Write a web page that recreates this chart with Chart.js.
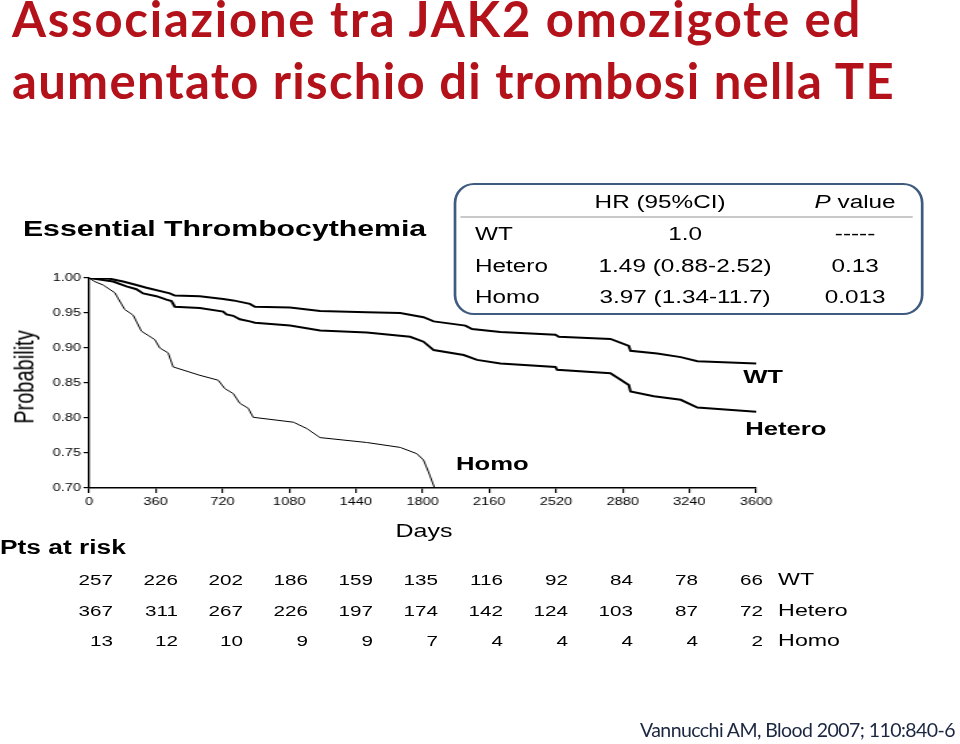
<!DOCTYPE html>
<html>
<head>
<meta charset="utf-8">
<script src="https://cdn.jsdelivr.net/npm/chart.js@4.4.1/dist/chart.umd.min.js"></script>
<style>
html, body { margin: 0; padding: 0; background: #fff; }
body { width: 960px; height: 744px; position: relative; overflow: hidden; }
.title { position: absolute; left: 12px; font-family: Lato, "Open Sans", sans-serif; font-weight: bold; color: #b3121a; white-space: nowrap; }
#cite { position: absolute; left: 640px; font-family: Lato, "Open Sans", sans-serif; color: #1b2640; white-space: nowrap; }
/* the figure is a horizontally stretched picture, so it is drawn narrow and scaled */
#fig { position: absolute; left: 0; top: 0; width: 711px; height: 744px; transform: scaleX(1.3502); transform-origin: 0 0;
       font-family: "Liberation Sans", Arial, sans-serif; color: #000; }
#fig .t { position: absolute; white-space: nowrap; }
#chartBox { position: absolute; left: 0; top: 0; width: 711px; height: 744px; }
#hrBox { position: absolute; left: 335.7px; top: 183px; width: 348px; height: 132px; box-sizing: border-box;
         border: 2.5px solid #3f5b7f; border-radius: 15px / 20px; }
#hrLine { position: absolute; left: 340.5px; top: 216px; width: 335px; height: 0; border-top: 2px solid #c9c9c9; }
</style>
</head>
<body>
<div class="title" id="t1">Associazione tra JAK2 omozigote ed</div>
<div class="title" id="t2">aumentato rischio di trombosi nella TE</div>

<div id="fig">
  <div id="chartBox"><canvas id="km"></canvas></div>
  <div id="hrBox"></div>
  <div id="hrLine"></div>
</div>

<div id="cite">Vannucchi AM, Blood 2007; 110:840-6</div>

<script>
// curves (days, probability)
var wtDays = [0, 112, 184, 256, 310, 436, 463, 598, 724, 778, 868, 895, 1085, 1247, 1499, 1679, 1805, 1860, 2031, 2067, 2220, 2517, 2535, 2814, 2913, 2922, 3066, 3193, 3283, 3600];
var wtSurv = [1.000, 0.999, 0.995, 0.990, 0.986, 0.978, 0.975, 0.974, 0.970, 0.968, 0.963, 0.959, 0.958, 0.953, 0.951, 0.950, 0.944, 0.938, 0.932, 0.927, 0.923, 0.919, 0.916, 0.913, 0.903, 0.896, 0.892, 0.887, 0.881, 0.878];

var heteroDays = [0, 130, 202, 256, 292, 364, 418, 445, 463, 598, 724, 742, 778, 814, 868, 895, 1085, 1247, 1499, 1733, 1805, 1860, 2022, 2094, 2220, 2517, 2526, 2814, 2913, 2922, 3048, 3193, 3283, 3600];
var heteroSurv = [1.000, 0.995, 0.988, 0.984, 0.978, 0.974, 0.969, 0.967, 0.959, 0.957, 0.952, 0.948, 0.946, 0.941, 0.938, 0.936, 0.932, 0.925, 0.922, 0.916, 0.909, 0.897, 0.890, 0.883, 0.878, 0.873, 0.869, 0.864, 0.847, 0.838, 0.831, 0.826, 0.815, 0.809];

var homoDays = [0, 30, 76, 139, 193, 238, 283, 355, 382, 427, 454, 598, 697, 733, 778, 814, 859, 886, 1103, 1175, 1247, 1499, 1679, 1769, 1805, 1832, 1865];
var homoSurv = [1.000, 0.995, 0.990, 0.979, 0.955, 0.947, 0.924, 0.912, 0.900, 0.893, 0.873, 0.861, 0.854, 0.842, 0.835, 0.821, 0.814, 0.801, 0.794, 0.785, 0.772, 0.765, 0.758, 0.749, 0.740, 0.723, 0.700];

var xTicks = [0, 360, 720, 1080, 1440, 1800, 2160, 2520, 2880, 3240, 3600];
var yTicks = [0.70, 0.75, 0.80, 0.85, 0.90, 0.95, 1.00];

var groups = ['WT', 'Hetero', 'Homo'];
var hrValues = ['1.0', '1.49 (0.88-2.52)', '3.97 (1.34-11.7)'];
var pValues = ['-----', '0.13', '0.013'];

var riskWT = [257, 226, 202, 186, 159, 135, 116, 92, 84, 78, 66];
var riskHetero = [367, 311, 267, 226, 197, 174, 142, 124, 103, 87, 72];
var riskHomo = [13, 12, 10, 9, 9, 7, 4, 4, 4, 4, 2];

function pts(xs, ys) {
  var out = [];
  for (var i = 0; i < xs.length; i++) out.push({x: xs[i], y: ys[i]});
  return out;
}

function curve(label, xs, ys, w) {
  return {label: label, data: pts(xs, ys), showLine: true, borderColor: '#000', borderWidth: w,
          pointRadius: 0, tension: 0, fill: false};
}

var tickFont = {family: '"Liberation Sans", Arial, sans-serif', size: 10.8};

var ctx = document.getElementById('km').getContext('2d');
var chart = new Chart(ctx, {
  type: 'scatter',
  data: {
    datasets: [
      curve('WT', wtDays, wtSurv, 2),
      curve('Hetero', heteroDays, heteroSurv, 2),
      curve('Homo', homoDays, homoSurv, 1)
    ]
  },
  options: {
    responsive: true,
    maintainAspectRatio: false,
    animation: false,
    layout: {padding: {left: 0, top: 278, right: 151, bottom: 226}},
    plugins: {legend: {display: false}, tooltip: {enabled: false}},
    scales: {
      x: {
        type: 'linear', min: 0, max: 3600,
        afterBuildTicks: function(s) { s.ticks = xTicks.map(function(v) { return {value: v}; }); },
        afterFit: function(s) { s.height = 30; },
        ticks: {font: tickFont, color: '#000', padding: 3, maxRotation: 0, autoSkip: false,
                callback: function(v) { return String(v); }},
        grid: {drawOnChartArea: false, color: '#000', tickLength: 5, lineWidth: 1.2},
        border: {color: '#000', width: 1.6}
      },
      y: {
        type: 'linear', min: 0.70, max: 1.00,
        afterBuildTicks: function(s) { s.ticks = yTicks.map(function(v) { return {value: v}; }); },
        afterFit: function(s) { s.width = 65.9; },
        ticks: {font: tickFont, color: '#000', padding: 2, autoSkip: false,
                callback: function(v) { return Number(v).toFixed(2); }},
        grid: {drawOnChartArea: false, color: '#000', tickLength: 4, lineWidth: 1.2},
        border: {color: '#000', width: 1.4}
      }
    }
  }
});

var fig = document.getElementById('fig');
var FW = 711;

function txt(str, x, cy, size, align, bold) {
  var d = document.createElement('div');
  d.className = 't';
  d.innerHTML = str;
  d.style.fontSize = size + 'px';
  d.style.lineHeight = size + 'px';
  d.style.top = (cy - size / 2) + 'px';
  if (bold) d.style.fontWeight = 'bold';
  if (align === 'center') { d.style.left = x + 'px'; d.style.transform = 'translateX(-50%)'; }
  else if (align === 'right') { d.style.right = (FW - x) + 'px'; }
  else d.style.left = x + 'px';
  fig.appendChild(d);
  return d;
}

// figure texts
txt('Essential Thrombocythemia', 17, 228.7, 22.4, 'left', true);

var yl = txt('Probability', 17.8, 377, 20, 'left', false);
yl.style.top = '377px';
yl.style.transform = 'translate(-50%, -50%) rotate(-90deg)';

txt('Days', 314, 531.5, 18.5, 'center', false);
txt('Pts at risk', 0, 547.5, 19.5, 'left', true);

txt('WT', 550.4, 376, 19, 'left', true);
txt('Hetero', 551.9, 428, 19, 'left', true);
txt('Homo', 337.8, 463, 19, 'left', true);

// HR table
txt('HR (95%CI)', 488.9, 202, 18, 'center', false);
txt('<i>P</i> value', 633.3, 202, 18, 'center', false);
var hrRows = [234, 266, 297];
for (var i = 0; i < groups.length; i++) {
  txt(groups[i], 351.8, hrRows[i], 18, 'left', false);
  txt(hrValues[i], 507.4, hrRows[i], 18, 'center', false);
  txt(pValues[i], 633.3, hrRows[i], 18, 'center', false);
}

// patients at risk
var riskRows = [riskWT, riskHetero, riskHomo];
var riskY = [580, 610.5, 641];
for (var r = 0; r < riskRows.length; r++) {
  for (var c = 0; c < riskRows[r].length; c++) {
    txt(String(riskRows[r][c]), 83.7 + 48.14 * c, riskY[r], 15.3, 'right', false);
  }
  txt(groups[r], 576.3, riskY[r], 17.2, 'left', false);
}

// slide title and citation: size from cap height, spacing to the width in the picture
function fitLine(el, targetW, baseline, size) {
  el.style.fontSize = size + 'px';
  el.style.lineHeight = size + 'px';
  el.style.top = '0px';
  var n = el.textContent.length;
  var w = el.getBoundingClientRect().width;
  el.style.letterSpacing = ((targetW - w) / n) + 'px';
  var m = document.createElement('span');
  m.style.display = 'inline-block';
  m.style.width = '0px';
  m.style.height = '0px';
  el.appendChild(m);
  var b = m.getBoundingClientRect().top - el.getBoundingClientRect().top;
  el.style.top = (baseline - b) + 'px';
}
fitLine(document.getElementById('t1'), 850, 37, 49);
fitLine(document.getElementById('t2'), 883, 98.5, 49);
fitLine(document.getElementById('cite'), 315, 737, 19.5);
</script>
</body>
</html>
